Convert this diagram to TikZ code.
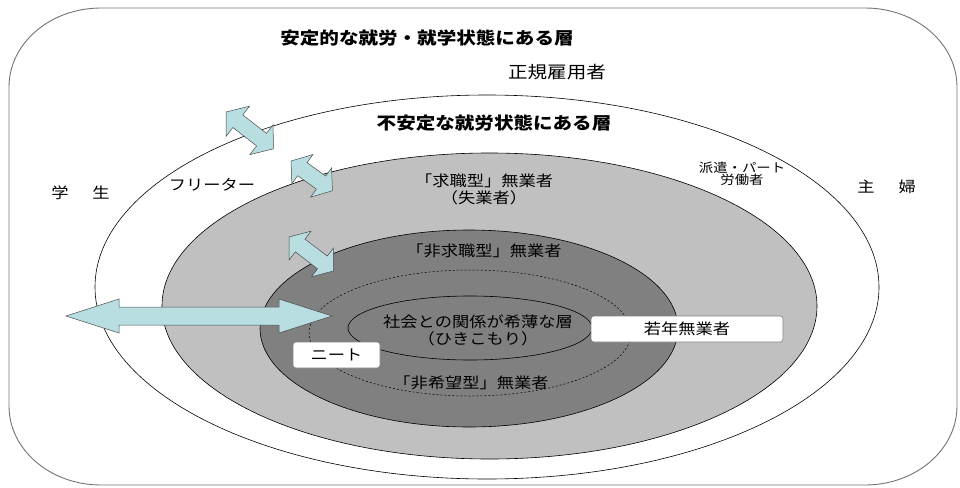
\documentclass[tikz,border=0pt]{standalone}
\usepackage{fontspec}
\setmainfont{Noto Sans CJK JP}[FakeStretch=1.15]
\usepackage{xcolor}
\definecolor{ArrowCyan}{RGB}{184,222,226}
\definecolor{LightGrey}{RGB}{192,192,192}
\definecolor{DarkGrey}{RGB}{128,128,128}

\tikzset{
  layer/.style={draw=black, line width=0.6pt},
  frame/.style={draw=black!55, line width=0.9pt},
  lbl/.style={inner sep=0.75pt, align=center, font=\fontsize{15}{17}\selectfont},
  biglbl/.style={inner sep=0.75pt, font=\fontsize{17}{19}\selectfont},
  ttl/.style={inner sep=0.75pt, font=\fontsize{17}{19}\selectfont\bfseries},
  smalllbl/.style={inner sep=0.75pt, align=center, font=\fontsize{12.5}{12.5}\selectfont},
  tagbox/.style={draw=black!50, fill=white, rounded corners=3pt, line width=0.6pt,
    inner sep=0pt, minimum height=26pt, font=\fontsize{15}{17}\selectfont},
  arrowbody/.style={draw=black!70, fill=ArrowCyan, line width=0.5pt, line join=miter},
  pics/twoway/.style n args={4}{code={% length, shaft half-width, head half-width, head length
    \draw[arrowbody] (0,0) -- (#4,-#3) -- (#4,-#2) -- (#1-#4,-#2) -- (#1-#4,-#3) -- (#1,0)
      -- (#1-#4,#3) -- (#1-#4,#2) -- (#4,#2) -- (#4,#3) -- cycle;
  }},
}

\begin{document}
\begin{tikzpicture}[x=1pt,y=1pt,yscale=-1,xscale=1]
  % Set the picture to the size of the page
  \useasboundingbox (0,0) rectangle (960,487);

  % Draw the outer frame with rounded corners
  \draw[frame] (101,8) -- (865,8) arc[start angle=-90, end angle=0, x radius=92, y radius=79]
    -- (957,406) arc[start angle=0, end angle=90, x radius=92, y radius=79]
    -- (101,485) arc[start angle=90, end angle=180, x radius=92, y radius=79]
    -- (9,87) arc[start angle=180, end angle=270, x radius=92, y radius=79] -- cycle;

  % Draw the nested layers
  \filldraw[layer, fill=white] (487,287) ellipse [x radius=392, y radius=192];
  \filldraw[layer, fill=LightGrey] (489.5,306) ellipse [x radius=327.5, y radius=153];
  \filldraw[layer, fill=DarkGrey] (469,328.5) ellipse [x radius=209, y radius=98.5];
  \draw[black, line width=0.5pt, dash pattern=on 2pt off 2pt] (470,333) ellipse [x radius=161, y radius=63];
  \draw[layer] (470,328) ellipse [x radius=122, y radius=32];

  % Draw the arrows between the layers
  \pic[rotate=-37.9] at (226,112) {twoway={60}{8}{19}{15}};
  \pic[rotate=-35.7] at (291,161) {twoway={51}{8}{18}{14}};
  \pic[rotate=-37.3] at (289,237) {twoway={56}{8}{18}{14}};
  \pic at (66,316) {twoway={266}{9}{17}{53}};

  % The titles of the two outer layers
  \node[ttl] (stableTitle) at (427,38) {安定的な就労・就学状態にある層};
  \node[ttl] (unstableTitle) at (494,123) {不安定な就労状態にある層};

  % The labels outside the unstable layer
  \node[biglbl] (regular) at (557,72) {正規雇用者};
  \node[lbl] (student) at (80.5,193) {学\hspace{24pt}生};
  \node[lbl] (housewife) at (886.5,187) {主\hspace{24pt}婦};

  % The labels inside the unstable layer
  \node[lbl] (freeter) at (212,185) {フリーター};
  \node[smalllbl] (dispatch) at (742,174) {派遣・パート\\労働者};
  \node[lbl] (jobSeek) at (484,189) {「求職型」無業者\\（失業者）};
  \node[lbl] (nonSeek) at (484,251) {「非求職型」無業者};
  \node[lbl] (withdrawn) at (478,330.5) {社会との関係が希薄な層\\（ひきこもり）};
  \node[lbl] (nonHope) at (471,383) {「非希望型」無業者};

  % The white tags
  \node[tagbox, minimum width=87pt] (neet) at (336.5,355) {ニート};
  \node[tagbox, minimum width=192pt] (jobless) at (687,329) {若年無業者};
\end{tikzpicture}
\end{document}
